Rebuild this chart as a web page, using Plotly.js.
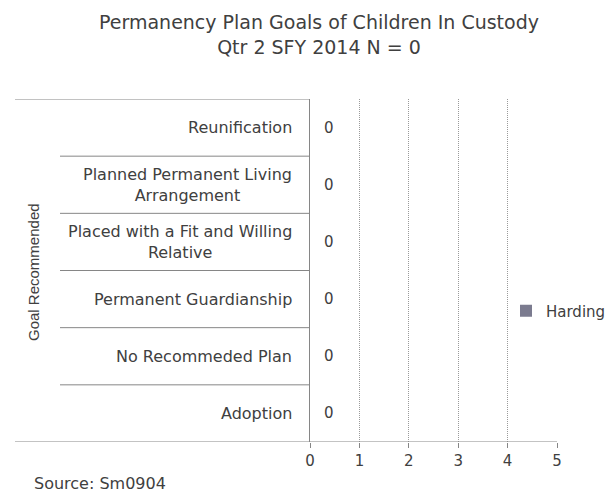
<!DOCTYPE html>
<html>
<head>
<meta charset="utf-8">
<script src="https://cdn.plot.ly/plotly-3.0.1.min.js"></script>
<style>html,body{margin:0;padding:0;background:#fff;}#chart{width:613px;height:493px;}</style>
</head>
<body>
<div id="chart"></div>
<script>
// Data (bottom to top)
const categories = ["Adoption", "No Recommeded Plan", "Permanent Guardianship", "Placed with a Fit and Willing<br>Relative", "Planned Permanent Living<br>Arrangement", "Reunification"];
const hardingValues = [0, 0, 0, 0, 0, 0];
const seriesName = "Harding";
const xTicks = [0, 1, 2, 3, 4, 5];
const titleText = "Permanency Plan Goals of Children In Custody<br>Qtr 2 SFY 2014 N = 0";

const FONT = "DejaVu Sans, Verdana, sans-serif";
const TXT = "#404040";
const LINE = "#868686";
const PW = 247, PH = 343;

const trace = {
  type: "bar",
  orientation: "h",
  name: seriesName,
  y: categories.map((c, i) => i),
  x: hardingValues,
  marker: {color: "#7b7b8f"},
  showlegend: true,
  hoverinfo: "none"
};

const annotations = [];
categories.forEach((c, i) => {
  annotations.push({
    xref: "paper", yref: "y", x: -16/PW, y: i, xanchor: "right", yanchor: "middle",
    text: c, showarrow: false, align: "center",
    font: {family: FONT, size: 16, color: TXT}
  });
});
hardingValues.forEach((v, i) => {
  annotations.push({
    xref: "x", yref: "y", x: v, y: i, xanchor: "center", yanchor: "middle", xshift: 19,
    text: String(v), showarrow: false,
    font: {family: FONT, size: 15, color: TXT}
  });
});
annotations.push({
  xref: "paper", yref: "paper", x: -277/PW, y: (442-272)/PH, textangle: -90,
  xanchor: "center", yanchor: "middle", showarrow: false,
  text: "Goal Recommended", font: {family: "Liberation Sans Narrow, Liberation Sans, sans-serif", size: 15, color: TXT}
});
annotations.push({
  xref: "paper", yref: "paper", x: -278/PW, y: -41/PH, xanchor: "left", yanchor: "middle",
  showarrow: false, text: "Source: Sm0904", font: {family: FONT, size: 16, color: TXT}
});
annotations.push({
  xref: "paper", yref: "paper", x: 9/PW, y: (442-9)/PH, xanchor: "center", yanchor: "top",
  showarrow: false, align: "center", text: titleText,
  font: {family: FONT, size: 19, color: TXT}
});

const shapes = [];
for (let k = 0; k < categories.length - 1; k++) {
  shapes.push({type: "line", xref: "paper", yref: "y", x0: -250/PW, x1: 0, y0: k + 0.5, y1: k + 0.5,
    line: {color: LINE, width: 1}});
}
shapes.push({type: "line", xref: "paper", yref: "y", x0: -295/PW, x1: 0, y0: categories.length - 0.5, y1: categories.length - 0.5,
  line: {color: LINE, width: 1}});
shapes.push({type: "line", xref: "paper", yref: "y", x0: -295/PW, x1: 1, y0: -0.5, y1: -0.5,
  line: {color: LINE, width: 1}});

const layout = {
  width: 613, height: 493,
  margin: {l: 310, r: 56, t: 99, b: 51, autoexpand: false},
  paper_bgcolor: "#fff", plot_bgcolor: "#fff",
  font: {family: FONT, size: 12, color: TXT},
  xaxis: {
    range: [0, 5], tickvals: xTicks, ticktext: xTicks.map(String),
    showgrid: true, gridcolor: "#9a9a9a", griddash: "1px,1px", gridwidth: 1,
    zeroline: false, showline: false,
    ticks: "outside", ticklen: 5, tickcolor: LINE,
    tickfont: {family: FONT, size: 15, color: TXT},
    fixedrange: true
  },
  yaxis: {
    range: [-0.5, categories.length - 0.5],
    showticklabels: false, showgrid: false, zeroline: false,
    showline: true, linecolor: LINE, linewidth: 1, ticks: "",
    fixedrange: true
  },
  legend: {
    x: 196/PW, xanchor: "left", y: (442-311)/PH, yanchor: "middle",
    bgcolor: "rgba(255,255,255,0)", font: {family: FONT, size: 15, color: TXT},
    itemwidth: 30, itemsizing: "constant"
  },
  annotations: annotations,
  shapes: shapes,
  bargap: 0.4
};

Plotly.newPlot("chart", [trace], layout, {displayModeBar: false, staticPlot: true});
</script>
</body>
</html>
